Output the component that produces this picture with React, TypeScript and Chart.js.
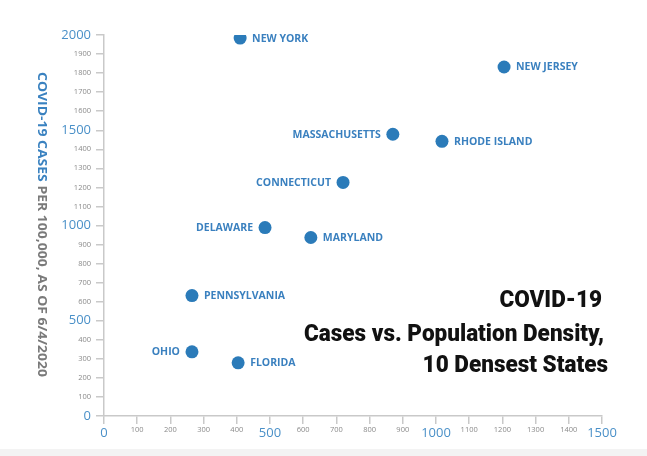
import React, { useEffect, useRef } from "react";
import { Chart, registerables } from "chart.js";

Chart.register(...registerables);

const states = ["NEW YORK", "NEW JERSEY", "MASSACHUSETTS", "RHODE ISLAND", "CONNECTICUT", "DELAWARE", "MARYLAND", "PENNSYLVANIA", "OHIO", "FLORIDA"];
const density = [410, 1205, 870, 1018, 720, 485, 623, 265, 265, 404];
const casesPer100k = [1984, 1832, 1479, 1442, 1226, 989, 937, 632, 337, 279];
const labelSide = ["right", "right", "left", "right", "left", "left", "right", "right", "left", "right"];
const titleLines = ["COVID-19", "Cases vs. Population Density,", "10 Densest States"];
const yTitleParts = ["COVID-19 CASES", " PER 100,000, AS OF 6/4/2020"];
const majorStep = 500;

const BLUE = "#2b7bb9";
const LABEL_BLUE = "#3a80bf";
const TICK_BLUE = "#4a90c8";
const AXIS = "#c9c9c9";
const FAMILY = "'Open Sans', 'DejaVu Sans', sans-serif";

const pointLabelPlugin = {
  id: "pointLabels",
  afterDatasetsDraw(chart: any) {
    const ctx = chart.ctx;
    const meta = chart.getDatasetMeta(0);
    ctx.save();
    ctx.font = `700 10.5px ${FAMILY}`;
    ctx.fillStyle = LABEL_BLUE;
    ctx.textBaseline = "middle";
    meta.data.forEach((el: any, i: number) => {
      const side = labelSide[i];
      if (side === "left") {
        ctx.textAlign = "right";
        ctx.fillText(states[i], el.x - 12, el.y + 0.5);
      } else {
        ctx.textAlign = "left";
        ctx.fillText(states[i], el.x + 12, el.y + 0.5);
      }
    });
    ctx.restore();
  },
};

const yTitlePlugin = {
  id: "yTitleCustom",
  afterDraw(chart: any) {
    const ctx = chart.ctx;
    ctx.save();
    ctx.font = `700 12.5px ${FAMILY}`;
    const w0 = ctx.measureText(yTitleParts[0]).width;
    const w1 = ctx.measureText(yTitleParts[1]).width;
    const target = 305;
    const s = target / (w0 + w1);
    ctx.translate(42, 72);
    ctx.rotate(Math.PI / 2);
    ctx.scale(s, 1);
    ctx.textBaseline = "middle";
    ctx.textAlign = "left";
    ctx.fillStyle = "#3a82c0";
    ctx.fillText(yTitleParts[0], 0, 0);
    ctx.fillStyle = "#7a7a7a";
    ctx.fillText(yTitleParts[1], w0, 0);
    ctx.restore();
  },
};

const bigTitlePlugin = {
  id: "bigTitle",
  afterDraw(chart: any) {
    const ctx = chart.ctx;
    ctx.save();
    ctx.font = `900 24px Roboto, ${FAMILY}`;
    const ref = ctx.measureText(titleLines[1]).width;
    const s = 300 / ref;
    const rights = [602, 604, 608];
    const baselines = [307, 341, 372];
    ctx.fillStyle = "#111";
    ctx.textBaseline = "alphabetic";
    ctx.textAlign = "right";
    titleLines.forEach((line, i) => {
      ctx.save();
      ctx.translate(rights[i], baselines[i]);
      ctx.scale(s, 1);
      ctx.fillText(line, 0, 0);
      ctx.restore();
    });
    ctx.restore();
  },
};

function tickFont(ctx: any) {
  const v = ctx.tick ? ctx.tick.value : 0;
  return v % majorStep === 0 ? { size: 13, family: FAMILY } : { size: 7.5, family: FAMILY };
}
function tickColor(ctx: any) {
  const v = ctx.tick ? ctx.tick.value : 0;
  return v % majorStep === 0 ? TICK_BLUE : "#8a8a8a";
}

export default function App() {
  const ref = useRef<HTMLCanvasElement>(null);
  useEffect(() => {
    if (!ref.current) return;
    const data = density.map((d, i) => ({ x: d, y: casesPer100k[i] }));
    const chart = new Chart(ref.current, {
      type: "scatter",
      data: {
        datasets: [
          {
            data,
            backgroundColor: BLUE,
            borderColor: BLUE,
            pointRadius: 6.5,
            pointHoverRadius: 6.5,
            borderWidth: 0,
          },
        ],
      },
      options: {
        animation: false,
        responsive: false,
        maintainAspectRatio: false,
        layout: { padding: { top: 35, right: 45, left: 0, bottom: 0 } },
        plugins: {
          legend: { display: false },
          tooltip: { enabled: false },
          title: { display: false },
        },
        scales: {
          x: {
            type: "linear",
            min: 0,
            max: 1500,
            afterFit: (scale: any) => {
              scale.height = 33;
            },
            border: { display: true, color: AXIS, width: 1.5 },
            grid: { drawOnChartArea: false, drawTicks: true, tickLength: 8, color: AXIS, lineWidth: 1.5 },
            ticks: {
              stepSize: 100,
              padding: 1,
              maxRotation: 0,
              autoSkip: false,
              font: tickFont as any,
              color: tickColor as any,
              callback: (v: any) => String(v),
            },
          },
          y: {
            type: "linear",
            min: 0,
            max: 2000,
            afterFit: (scale: any) => {
              scale.width = 104;
            },
            border: { display: true, color: AXIS, width: 1.5 },
            grid: { drawOnChartArea: false, drawTicks: true, tickLength: 8, color: AXIS, lineWidth: 1.5 },
            ticks: {
              stepSize: 100,
              padding: 5,
              autoSkip: false,
              font: tickFont as any,
              color: tickColor as any,
              callback: (v: any) => String(v),
            },
          },
        },
      },
      plugins: [pointLabelPlugin, yTitlePlugin, bigTitlePlugin],
    });
    return () => chart.destroy();
  }, []);
  return (
    <div style={{ position: "fixed", left: 0, top: 0, width: 647, height: 456, background: "#fff" }}>
      <canvas ref={ref} width={647} height={449} style={{ display: "block", width: 647, height: 449 }} />
      <div style={{ width: 647, height: 7, background: "#f3f3f3" }} />
    </div>
  );
}
